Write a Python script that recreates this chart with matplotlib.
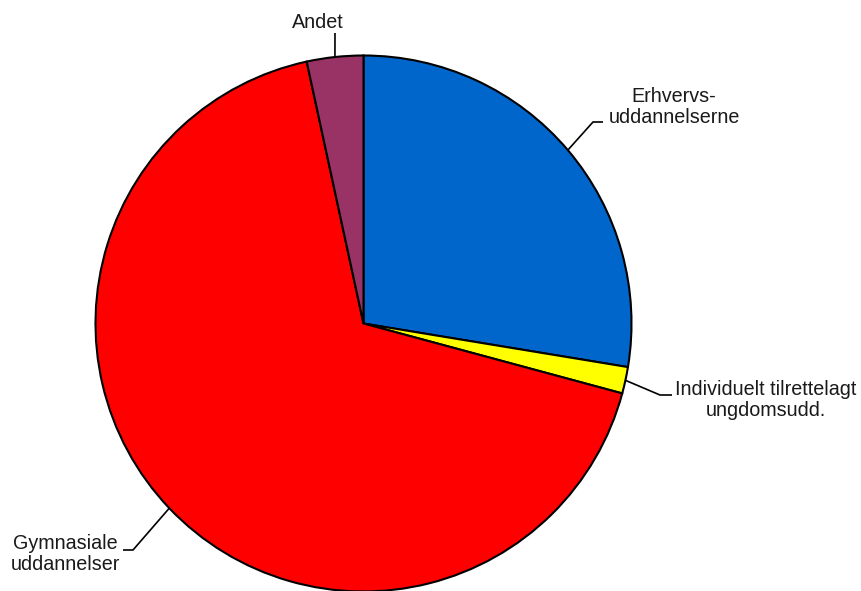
import numpy as np
import matplotlib
matplotlib.use('Agg')
import matplotlib.pyplot as plt

plt.rcParams['font.family'] = ['Liberation Sans', 'DejaVu Sans']

# shares in percent, clockwise from 12 o'clock
labels = ['Erhvervs-\nuddannelserne', 'Individuelt tilrettelagt\nungdomsudd.',
          'Gymnasiale\nuddannelser', 'Andet']
shares = [27.6, 1.6, 67.4, 3.4]
colors = ['#0066CC', '#FFFF00', '#FF0000', '#993366']

W, H = 862, 591


def px(x, y):
    # picture pixel coords (y down) -> axes data (y up)
    return x, H - y


# leader elbows and label anchors (pixels)
elbows = [[(593, 122), (603, 122)],
          [(660, 395), (672, 395)],
          [(133, 550), (123, 550)],
          [(335, 33)]]
label_pos = [(674, 107), (766, 400), (65, 554), (318, 22)]

fig = plt.figure(figsize=(W / 100, H / 100), dpi=100)
ax = fig.add_axes([0, 0, 1, 1])
ax.set_xlim(0, W)
ax.set_ylim(0, H)
ax.set_aspect('equal')
ax.axis('off')

center = px(363.5, 323.5)
radius = 268
wedges, _ = ax.pie(shares, colors=colors, startangle=90, counterclock=False,
                   center=center, radius=radius, frame=True,
                   wedgeprops=dict(edgecolor='black', linewidth=1.5))
ax.set_xlim(0, W)
ax.set_ylim(0, H)
ax.axis('off')

for w, lab, elb, pos in zip(wedges, labels, elbows, label_pos):
    mid = np.deg2rad((w.theta1 + w.theta2) / 2)
    start = (center[0] + radius * np.cos(mid), center[1] + radius * np.sin(mid))
    pts = [start] + [px(*p) for p in elb]
    xs, ys = zip(*pts)
    ax.plot(xs, ys, color='black', linewidth=1.2, solid_capstyle='butt')
    tx, ty = px(*pos)
    ax.text(tx, ty, lab, ha='center', va='center', fontsize=14.2,
            color='#1a1a1a', linespacing=1.15, multialignment='center')

fig.savefig('out.png', dpi=100)
